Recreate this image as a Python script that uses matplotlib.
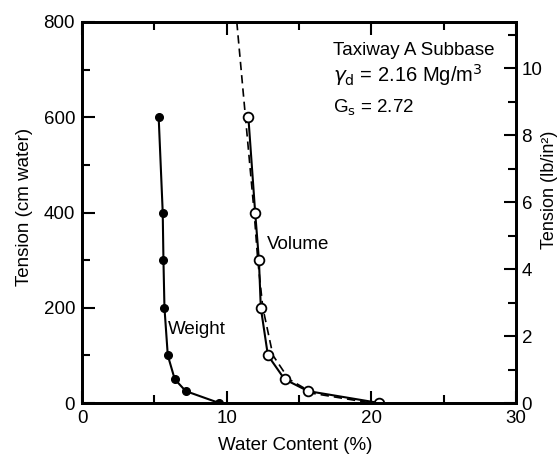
import matplotlib.pyplot as plt
import numpy as np

plt.rcParams['font.family'] = ['Liberation Sans', 'DejaVu Sans']

# Tension (cm water)
tension = [600, 400, 300, 200, 100, 50, 25, 0]
# water content by weight (%)
w_weight = [5.3, 5.58, 5.63, 5.7, 5.93, 6.41, 7.17, 9.48]
# water content by volume (%)
w_volume = [11.5, 11.97, 12.23, 12.36, 12.85, 14.0, 15.62, 20.55]
# dashed fitted curve (volume)
fit_tension = [800, 600, 400, 300, 200, 100, 50, 20, 0]
fit_volume = [10.7, 11.3, 11.9, 12.15, 12.5, 13.2, 14.3, 16.0, 20.0]

CM_TO_PSI = 0.014223
FS = 13.5

fig = plt.figure(figsize=(5.6, 4.55), dpi=100)
ax = fig.add_axes([82 / 560, 1 - 403 / 455, 434 / 560, 381 / 455])

ax.plot(fit_volume, fit_tension, color='black', lw=1.2, ls=(0, (5, 3)))
ax.plot(w_weight, tension, color='black', lw=1.5, marker='o', ms=5.5,
        mfc='black', mec='black')
ax.plot(w_volume, tension, color='black', lw=1.5, marker='o', ms=7,
        mfc='white', mec='black', mew=1.3)

ax.set_xlim(0, 30)
ax.set_ylim(0, 800)
ax.set_xticks([0, 10, 20, 30])
ax.set_xticks([5, 15, 25], minor=True)
ax.set_yticks([0, 200, 400, 600, 800])
ax.set_yticks([100, 300, 500, 700], minor=True)
ax.tick_params(which='both', direction='in', top=True, right=False,
               labelsize=FS, width=1.5, pad=5)
ax.tick_params(which='major', length=9)
ax.tick_params(which='minor', length=6)
for s in ax.spines.values():
    s.set_linewidth(2)

ax2 = ax.twinx()
ax2.set_ylim(0, 800 * CM_TO_PSI)
ax2.set_yticks([0, 2, 4, 6, 8, 10])
ax2.set_yticks([1, 3, 5, 7, 9, 11], minor=True)
ax2.tick_params(which='both', direction='in', labelsize=FS, width=1.5, pad=4)
ax2.tick_params(which='major', length=9)
ax2.tick_params(which='minor', length=6)
for s in ax2.spines.values():
    s.set_linewidth(2)

# axis titles placed by hand
fig.text(295 / 560, 1 - 445 / 455, 'Water Content (%)', fontsize=FS,
         ha='center', va='center')
fig.text(25 / 560, 1 - 207 / 455, 'Tension (cm water)', fontsize=FS,
         ha='center', va='center', rotation=90)
fig.text(550 / 560, 1 - 190 / 455, 'Tension (lb/in²)', fontsize=13,
         ha='center', va='center', rotation=90)

ax.text(5.95, 155, 'Weight', fontsize=FS, va='center')
ax.text(12.8, 332, 'Volume', fontsize=FS, va='center')

ax.text(17.37, 741, 'Taxiway A Subbase', fontsize=FS, va='center')
ax.text(17.37, 689, r'$\gamma_{\mathrm{d}}$ = 2.16 Mg/m$^3$', fontsize=FS + 1, va='center')
ax.text(17.37, 620, r'G$_{\mathrm{ s}}$ = 2.72', fontsize=FS, va='center')

plt.savefig('out.png', dpi=100)
